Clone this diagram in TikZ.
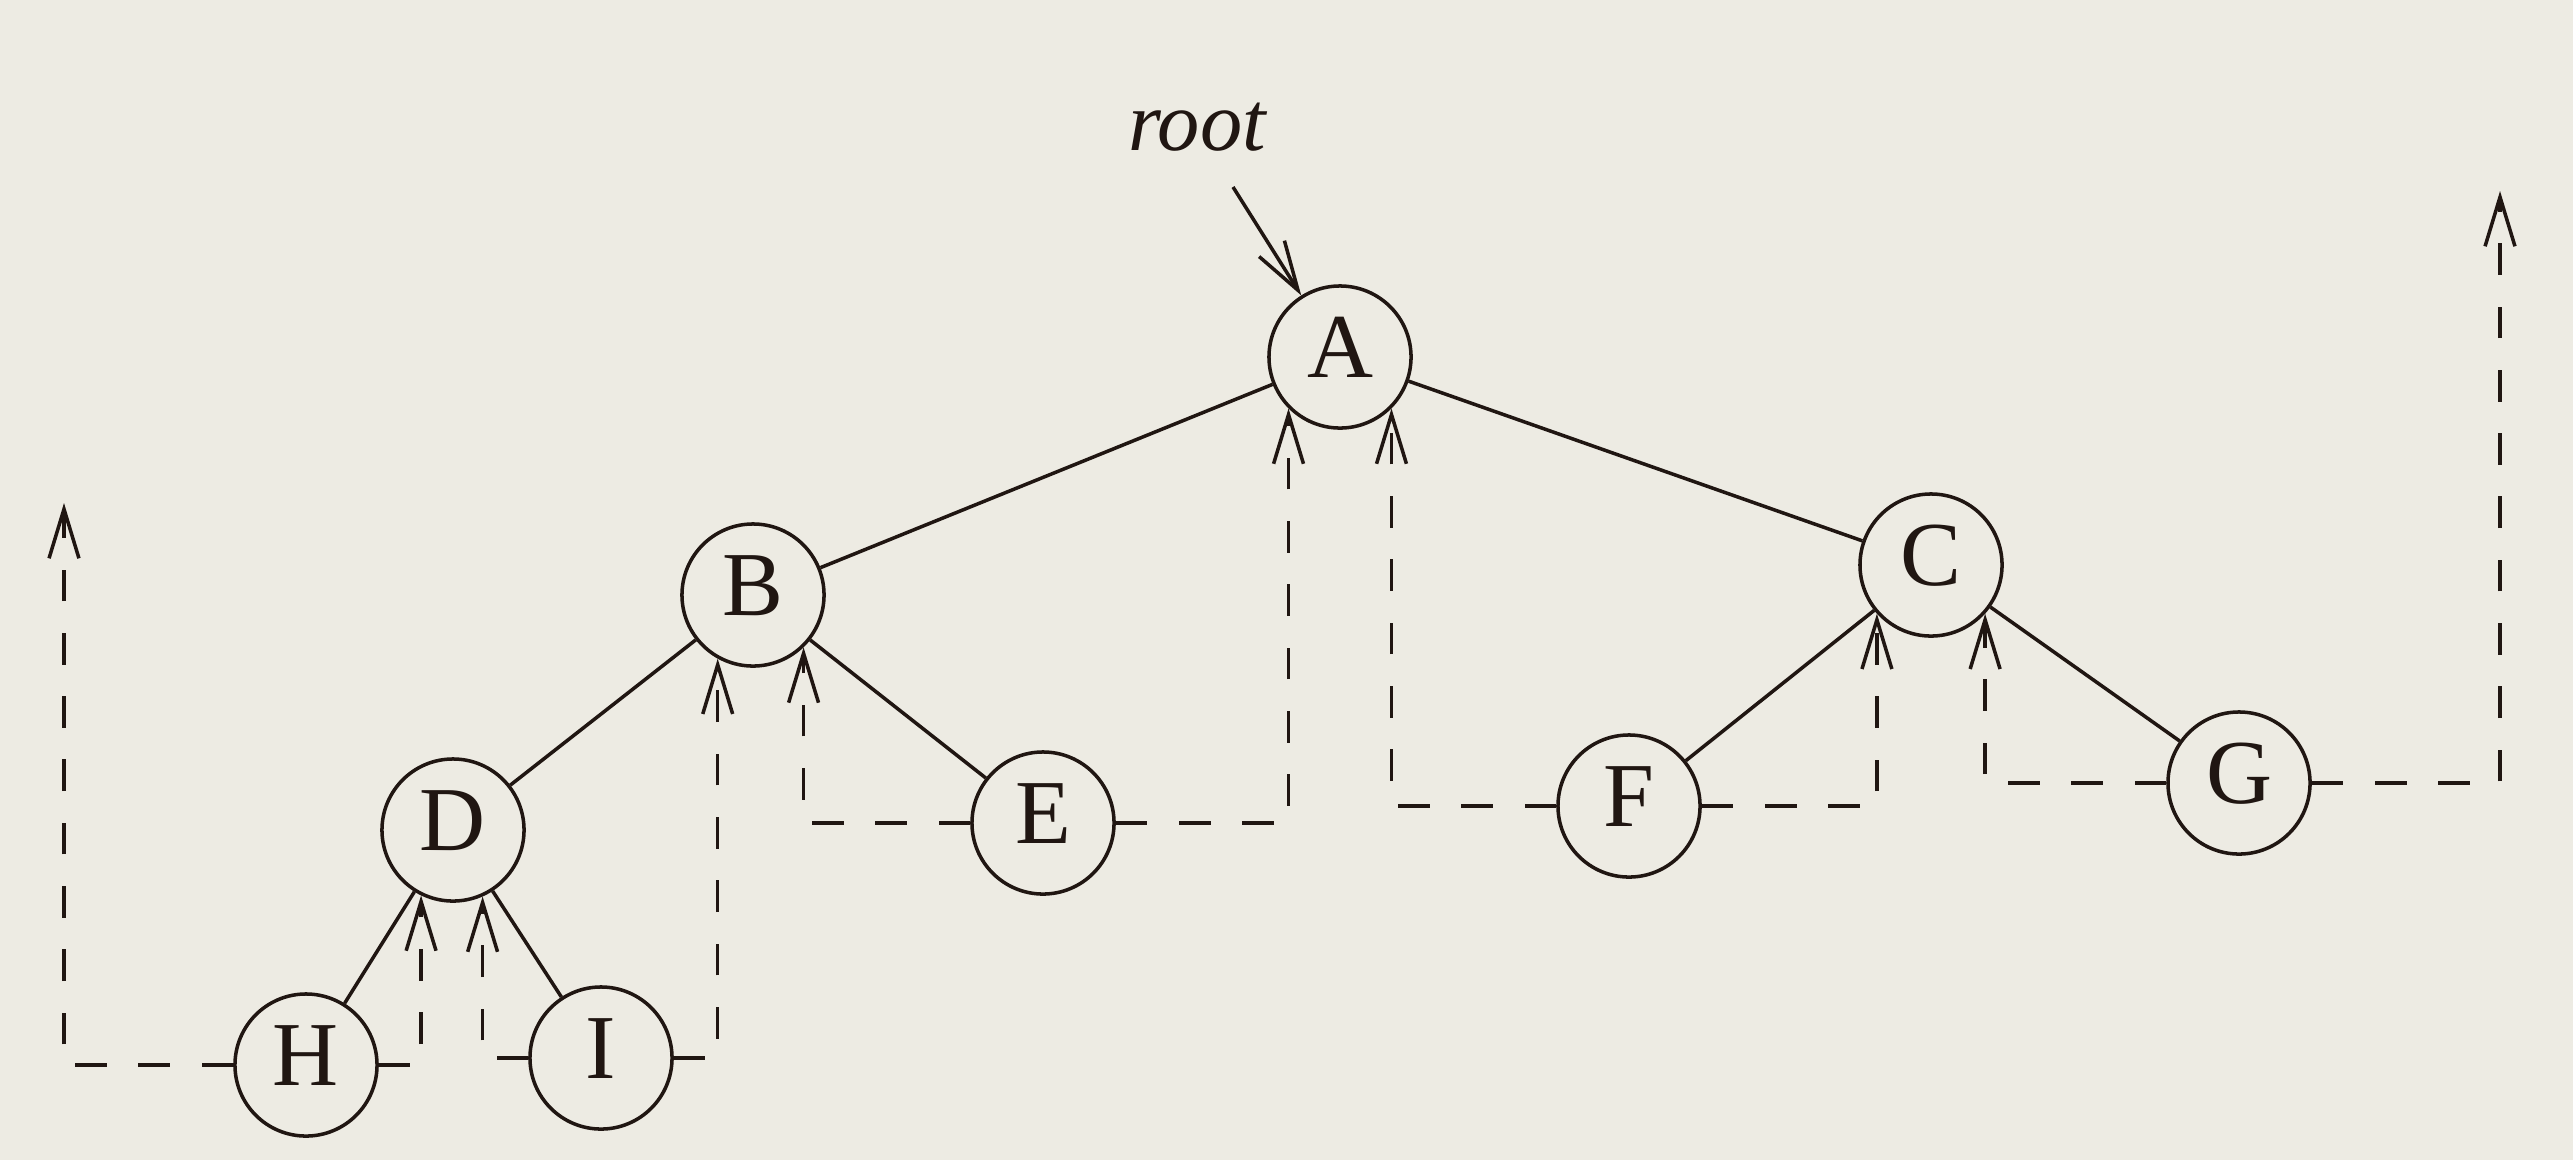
\documentclass[tikz,border=0pt]{standalone}
\usepackage{fontspec}
\setmainfont{Liberation Serif}
\usetikzlibrary{arrows.meta}
\definecolor{paper}{RGB}{237,235,227}
\definecolor{ink}{RGB}{32,22,18}
\begin{document}
\begin{tikzpicture}[x={(0.01cm,0)}, y={(0,-0.01cm)},
  tnode/.style={circle, draw=ink, line width=1pt, minimum size=1.42cm, inner sep=0pt,
    font=\fontsize{26}{26}\selectfont, text=ink, text height=17pt, text depth=5.5pt},
  treeline/.style={draw=ink, line width=1pt},
  thread/.style={draw=ink, line width=1pt, dash pattern=on 9pt off 9pt,
    -{Straight Barb[length=14pt,width=8.5pt]}},
  rootarrow/.style={draw=ink, line width=1pt, -{Straight Barb[length=14pt,width=8.5pt]}}
]
\fill[paper] (0,0) rectangle (2573,1160);
\useasboundingbox (0,0) rectangle (2573,1160);

% nodes
\node[tnode] (A) at (1340,357) {A};
\node[tnode] (B) at (753,595) {B};
\node[tnode] (C) at (1931,565) {C};
\node[tnode] (D) at (453,830) {D};
\node[tnode] (E) at (1043,823) {E};
\node[tnode] (F) at (1629,806) {F};
\node[tnode] (G) at (2239,783) {G};
\node[tnode] (H) at (306,1065) {H};
\node[tnode] (I) at (601,1058) {I};

% root label and pointer
\node[anchor=base, font=\fontsize{24}{24}\selectfont\itshape, text=ink] (rootlbl) at (1197,150) {root};
\coordinate (rootstart) at (1233,187);
\draw[rootarrow] (rootstart) -- (A);

% tree edges
\draw[treeline] (A) -- (B);
\draw[treeline] (A) -- (C);
\draw[treeline] (B) -- (D);
\draw[treeline] (B) -- (E);
\draw[treeline] (C) -- (F);
\draw[treeline] (C) -- (G);
\draw[treeline] (D) -- (H);
\draw[treeline] (D) -- (I);

% threads
\coordinate (tl) at (64,503);
\coordinate (tr) at (2500,191);
\draw[thread] (H.west) -| (tl);
\draw[thread] (H.east) -| (D.-116);
\draw[thread] (I.west) -| (D.-66);
\draw[thread] (I.east) -| (B.-119);
\draw[thread] (E.west) -| (B.-46);
\draw[thread] (E.east) -| (A.-135);
\draw[thread] (F.west) -| (A.-45);
\draw[thread] (F.east) -| (C.-138);
\draw[thread] (G.west) -| (C.-42);
\draw[thread] (G.east) -| (tr);
\end{tikzpicture}
\end{document}
